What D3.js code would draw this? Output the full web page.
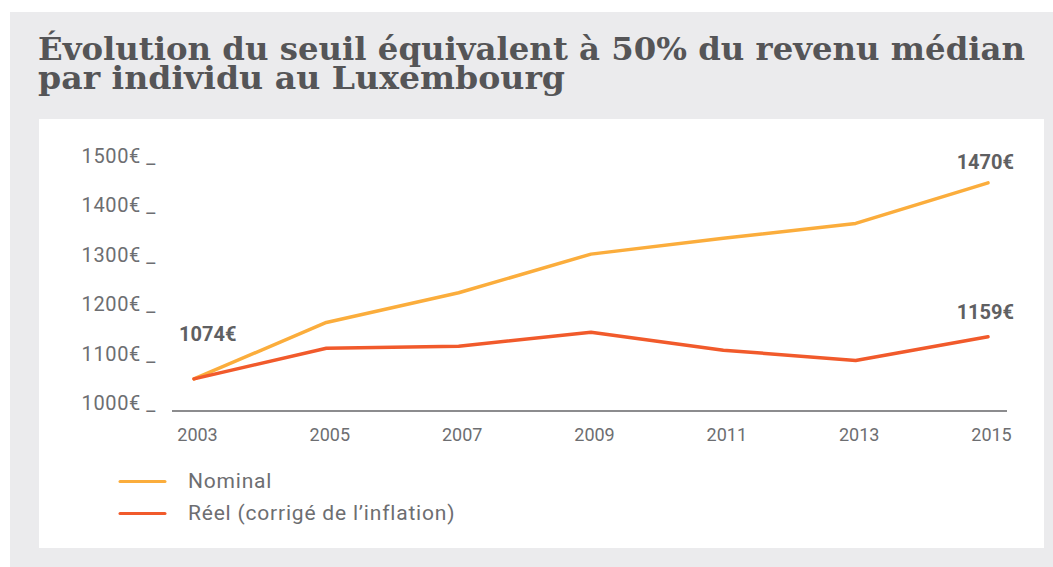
<!DOCTYPE html>
<html>
<head>
<meta charset="utf-8">
<script src="https://cdn.jsdelivr.net/npm/d3@7"></script>
<style>
  html, body { margin: 0; padding: 0; background: #ffffff; }
  svg { display: block; }
</style>
</head>
<body>
<svg id="chart" width="1053" height="567"></svg>
<script>
// ---- Data ----
const years = ["2003", "2005", "2007", "2009", "2011", "2013", "2015"];
const nominal = [1074, 1188, 1248, 1326, 1358, 1388, 1470];
const reel = [1074, 1136, 1140, 1168, 1132, 1111, 1159];
const yTicks = [1000, 1100, 1200, 1300, 1400, 1500];
const seriesNames = ["Nominal", "Réel (corrigé de l’inflation)"];
const titleLines = ["Évolution du seuil équivalent à 50% du revenu médian", "par individu au Luxembourg"];

const colors = { nominal: "#FBAD3C", reel: "#F15A2B" };
const gray = "#6d6e71";

const svg = d3.select("#chart");

// backgrounds
svg.append("rect").attr("x", 10).attr("y", 12).attr("width", 1043).attr("height", 555).attr("fill", "#EBEBED");
svg.append("rect").attr("x", 39).attr("y", 119).attr("width", 1005).attr("height", 429).attr("fill", "#ffffff");

// title (one text element, two lines)
const title = svg.append("text")
  .attr("font-family", "'DejaVu Serif', 'Liberation Serif', serif")
  .attr("font-weight", "bold")
  .attr("font-size", 31)
  .attr("fill", "#555557");
titleLines.forEach((t, i) => {
  title.append("tspan")
    .attr("x", 38)
    .attr("y", i === 0 ? 59.5 : 88.5)
    .attr("textLength", i === 0 ? 987 : 527)
    .attr("lengthAdjust", "spacingAndGlyphs")
    .text(t);
});

// scales
const x = d3.scalePoint().domain(years).range([194, 988]);
const y = d3.scaleLinear().domain([1000, 1500]).range([415.5, 168]);

// y axis labels
const yAxis = d3.axisLeft(y).tickValues(yTicks).tickSize(0).tickFormat(d => d + "€ _");
const gy = svg.append("g").attr("transform", "translate(156,0)").call(yAxis);
gy.select(".domain").remove();
gy.selectAll("text")
  .attr("x", 0)
  .attr("dy", null)
  .attr("y", -6)
  .attr("font-family", "Roboto, 'Open Sans', sans-serif")
  .attr("font-size", 20)
  .attr("letter-spacing", 0.6)
  .attr("fill", gray);

// x axis
const xAxis = d3.axisBottom(x).tickSize(0).tickPadding(0);
const gx = svg.append("g").attr("transform", "translate(0,411)").call(xAxis);
gx.select(".domain").remove();
gx.append("line").attr("x1", 172).attr("x2", 1007).attr("y1", 0).attr("y2", 0)
  .attr("stroke", "#8c8c8e").attr("stroke-width", 2);
gx.selectAll(".tick text")
  .attr("x", 3)
  .attr("y", 30)
  .attr("dy", null)
  .attr("font-family", "Roboto, 'Open Sans', sans-serif")
  .attr("font-size", 18)
  .attr("fill", gray);

// lines
const line = d3.line().x((d, i) => x(years[i])).y(d => y(d));
svg.append("path").datum(nominal).attr("d", line)
  .attr("fill", "none").attr("stroke", colors.nominal).attr("stroke-width", 3.5)
  .attr("stroke-linejoin", "round").attr("stroke-linecap", "round");
svg.append("path").datum(reel).attr("d", line)
  .attr("fill", "none").attr("stroke", colors.reel).attr("stroke-width", 3.5)
  .attr("stroke-linejoin", "round").attr("stroke-linecap", "round");

// annotations
const ann = [
  { yr: years[0], v: nominal[0], dx: -15, dy: -38, anchor: "start" },
  { yr: years[6], v: nominal[6], dx: 26, dy: -14, anchor: "end" },
  { yr: years[6], v: reel[6], dx: 26, dy: -18, anchor: "end" }
];
ann.forEach(a => {
  svg.append("text")
    .attr("x", x(a.yr) + a.dx)
    .attr("y", y(a.v) + a.dy)
    .attr("text-anchor", a.anchor)
    .attr("font-family", "Roboto, 'Open Sans', sans-serif")
    .attr("font-weight", "bold")
    .attr("font-size", 20)
    .attr("fill", "#5f6062")
    .text(a.v + "€");
});

// legend
const legend = svg.append("g");
[colors.nominal, colors.reel].forEach((c, i) => {
  const ly = 481.5 + i * 32;
  legend.append("line").attr("x1", 120).attr("x2", 165).attr("y1", ly).attr("y2", ly)
    .attr("stroke", c).attr("stroke-width", 3).attr("stroke-linecap", "round");
  legend.append("text").attr("x", 188).attr("y", ly + 6.5)
    .attr("font-family", "Roboto, 'Open Sans', sans-serif")
    .attr("font-size", 21)
    .attr("letter-spacing", 0.8)
    .attr("fill", gray)
    .text(seriesNames[i]);
});
</script>
</body>
</html>
